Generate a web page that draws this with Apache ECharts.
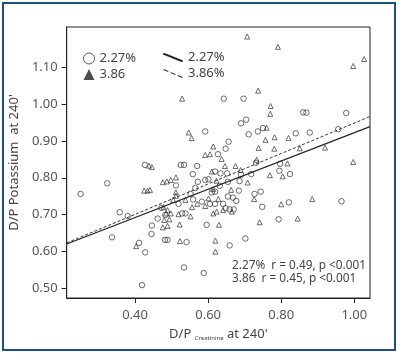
<!DOCTYPE html>
<html>
<head>
<meta charset="utf-8">
<script src="https://cdn.jsdelivr.net/npm/echarts@6/dist/echarts.min.js"></script>
<style>
  html, body { margin: 0; padding: 0; background: #fff; }
  #chart { width: 400px; height: 354px; }
</style>
</head>
<body>
<div id="chart"></div>
<script>
// tick labels
var xTicks = [0.40, 0.60, 0.80, 1.00];
var yTicks = [0.50, 0.60, 0.70, 0.80, 0.90, 1.00, 1.10];

// 2.27% (circles)
var pts227 = [
  [0.643,1.015],[0.697,1.015],[0.690,0.948],[0.704,0.958],[0.860,0.978],[0.869,0.977],[0.978,0.976],
  [0.711,0.918],[0.736,0.926],[0.750,0.935],[0.840,0.921],[0.878,0.923],[0.956,0.932],[0.656,0.898],
  [0.648,0.879],[0.592,0.926],[0.731,0.841],[0.797,0.838],[0.795,0.819],[0.824,0.810],[0.718,0.810],
  [0.627,0.864],[0.619,0.817],[0.634,0.812],[0.652,0.812],[0.690,0.808],[0.654,0.789],[0.686,0.791],
  [0.632,0.778],[0.684,0.765],[0.744,0.762],[0.619,0.762],[0.654,0.749],[0.668,0.746],[0.677,0.737],
  [0.748,0.721],[0.619,0.729],[0.641,0.729],[0.648,0.717],[0.659,0.714],[0.670,0.714],[0.821,0.733],
  [0.965,0.736],[0.793,0.687],[0.702,0.635],[0.659,0.616],[0.588,0.541],[0.525,0.835],[0.534,0.835],
  [0.570,0.832],[0.558,0.810],[0.512,0.779],[0.572,0.789],[0.592,0.794],[0.601,0.796],[0.565,0.772],
  [0.552,0.756],[0.610,0.760],[0.519,0.729],[0.559,0.741],[0.583,0.735],[0.605,0.729],[0.472,0.718],
  [0.529,0.703],[0.538,0.703],[0.427,0.835],[0.324,0.785],[0.251,0.756],[0.358,0.706],[0.380,0.696],
  [0.337,0.638],[0.411,0.623],[0.428,0.597],[0.445,0.647],[0.446,0.670],[0.462,0.689],[0.419,0.508],
  [0.482,0.631],[0.489,0.631],[0.541,0.625],[0.534,0.556],[0.483,0.699],[0.596,0.672],[0.727,0.756]
];

// 3.86 (triangles)
var pts386 = [
  [0.707,1.184],[0.791,1.156],[0.997,1.104],[1.027,1.123],[0.529,1.015],[0.737,1.037],[0.771,0.995],
  [0.770,0.974],[0.760,0.936],[0.757,0.903],[0.782,0.910],[0.820,0.908],[0.781,0.879],[0.851,0.880],
  [0.920,0.882],[0.738,0.881],[0.997,0.843],[0.817,0.839],[0.733,0.849],[0.675,0.832],[0.646,0.832],
  [0.637,0.851],[0.689,0.821],[0.769,0.807],[0.804,0.804],[0.623,0.792],[0.708,0.787],[0.663,0.767],
  [0.628,0.742],[0.726,0.742],[0.623,0.708],[0.800,0.728],[0.885,0.742],[0.845,0.689],[0.741,0.679],
  [0.620,0.629],[0.620,0.599],[0.547,0.923],[0.555,0.908],[0.614,0.885],[0.592,0.862],[0.605,0.864],
  [0.610,0.817],[0.476,0.788],[0.487,0.790],[0.498,0.794],[0.512,0.801],[0.614,0.769],[0.512,0.760],
  [0.512,0.751],[0.504,0.740],[0.570,0.729],[0.601,0.744],[0.592,0.723],[0.478,0.720],[0.489,0.712],
  [0.556,0.720],[0.485,0.703],[0.498,0.703],[0.614,0.703],[0.438,0.833],[0.446,0.829],[0.425,0.765],
  [0.434,0.765],[0.441,0.767],[0.403,0.614],[0.476,0.665],[0.489,0.669],[0.480,0.685],[0.494,0.687],
  [0.522,0.673],[0.519,0.701],[0.552,0.695],[0.538,0.740],[0.523,0.628],[0.630,0.672],[0.641,0.712],
  [0.665,0.708]
];

// regression lines (end points)
var fitX = [0.213, 1.043];
var fit227 = [0.620, 0.939];
var fit386 = [0.623, 0.9665];

var solidIcon = 'path://M0,0L2,0L18,6.5L18,7.5L16,7.5L0,1Z';
var dashIcon = 'path://M0,0L4.5,1.9L4.5,3L0,1.1Z M6.75,2.85L11.25,4.75L11.25,5.85L6.75,3.95Z M13.5,5.7L18,7.6L18,8.7L13.5,6.8Z';

var txt = '#444';
var font = 'Noto Sans';

var myChart = echarts.init(document.getElementById('chart'));
var option = {
  animation: false,
  textStyle: { fontFamily: font },
  grid: { left: 60, right: 30, top: 27, bottom: 56, show: true, borderColor: '#222', borderWidth: 1 },
  legend: [
    {
      left: 78, top: 47, orient: 'vertical', itemGap: 3, itemWidth: 11, itemHeight: 11,
      selectedMode: false,
      textStyle: { fontSize: 13, color: txt, fontFamily: font },
      data: [
        { name: '2.27%', icon: 'circle', itemStyle: { color: '#fff', borderColor: '#333', borderWidth: 1 } },
        { name: '3.86', icon: 'triangle', itemStyle: { color: '#222', borderWidth: 0 } }
      ]
    },
    {
      left: 158, top: 46, orient: 'vertical', itemGap: 3, itemWidth: 20, itemHeight: 9,
      selectedMode: false,
      textStyle: { fontSize: 13, color: txt, fontFamily: font },
      data: [
        { name: '2.27% ', icon: solidIcon, itemStyle: { color: '#222', borderWidth: 0 } },
        { name: '3.86%', icon: dashIcon, itemStyle: { color: '#222', borderWidth: 0 } }
      ]
    }
  ],
  xAxis: {
    type: 'value', min: fitX[0], max: fitX[1],
    name: "{m|D/P }{s|Creatinine}{m| at 240'}",
    nameLocation: 'middle', nameGap: 30,
    nameTextStyle: {
      rich: {
        m: { fontSize: 13, color: txt, fontFamily: font },
        s: { fontSize: 6, color: txt, fontFamily: font, verticalAlign: 'bottom', padding: [6, 0, 0, 0] }
      }
    },
    axisLine: { lineStyle: { color: '#222' } },
    axisTick: { customValues: xTicks, length: 5, lineStyle: { color: '#222' } },
    axisLabel: { customValues: xTicks, margin: 11, fontSize: 13, color: '#555', formatter: function (v) { return v.toFixed(2); } },
    splitLine: { show: false }
  },
  yAxis: {
    type: 'value', min: 0.473, max: 1.21,
    name: "D/P Potassium  at 240'",
    nameLocation: 'middle', nameGap: 40,
    nameTextStyle: { fontSize: 13, color: txt },
    axisLine: { show: true, lineStyle: { color: '#222' } },
    axisTick: { show: true, customValues: yTicks, length: 5, lineStyle: { color: '#222' } },
    axisLabel: { customValues: yTicks, margin: 9, fontSize: 13, color: '#555', formatter: function (v) { return v.toFixed(2); } },
    splitLine: { show: false }
  },
  series: [
    {
      name: '2.27%', type: 'scatter', data: pts227, symbol: 'circle', symbolSize: 5.5,
      itemStyle: { color: 'rgba(255,255,255,0)', borderColor: '#333', borderWidth: 0.9 }
    },
    {
      name: '3.86', type: 'scatter', data: pts386, symbol: 'triangle', symbolSize: [5, 5],
      itemStyle: { color: 'rgba(255,255,255,0)', borderColor: '#333', borderWidth: 0.9 }
    },
    {
      name: '2.27% ', type: 'line', symbol: 'none', color: '#222',
      data: [[fitX[0], fit227[0]], [fitX[1], fit227[1]]],
      lineStyle: { color: '#222', width: 1.2 }
    },
    {
      name: '3.86%', type: 'line', symbol: 'none', color: '#222',
      data: [[fitX[0], fit386[0]], [fitX[1], fit386[1]]],
      lineStyle: { color: '#333', width: 1, type: [3, 2] }
    }
  ],
  graphic: [
    {
      type: 'rect', shape: { x: 3, y: 3, width: 392, height: 347 },
      style: { fill: 'none', stroke: '#1d4f7c', lineWidth: 2 }, silent: true
    },
    {
      type: 'text', left: 232, top: 260,
      style: { text: '2.27%  r = 0.49, p <0.001', fontSize: 11.8, fill: txt, fontFamily: font }
    },
    {
      type: 'text', left: 232, top: 273,
      style: { text: '3.86  r = 0.45, p <0.001', fontSize: 11.8, fill: txt, fontFamily: font }
    }
  ]
};
myChart.setOption(option);
window.onresize = function () {
  myChart.resize();
};
</script>
</body>
</html>
